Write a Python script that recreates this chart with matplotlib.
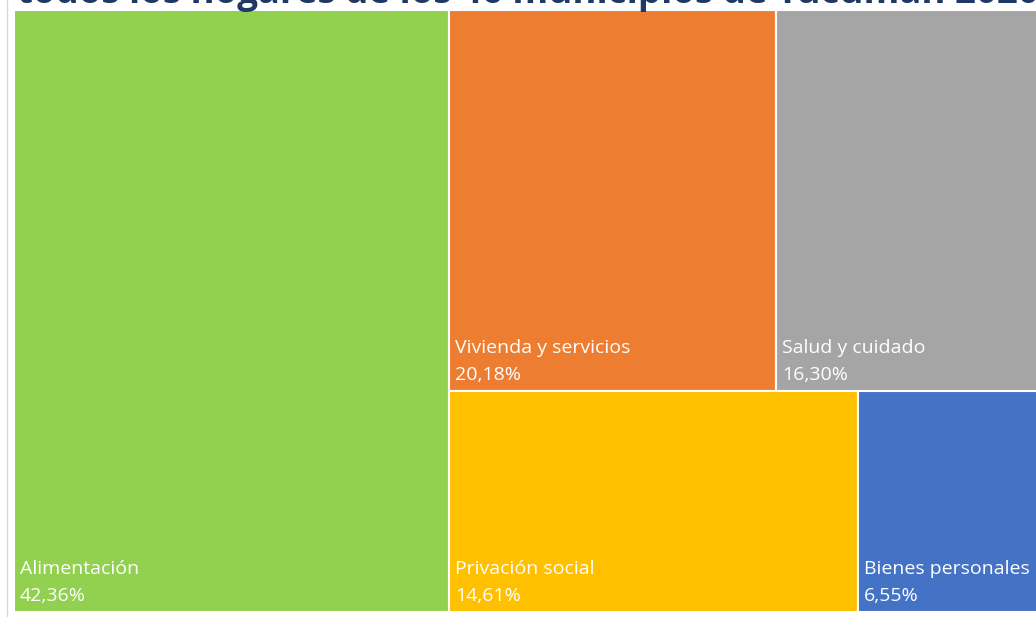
import matplotlib
matplotlib.use("Agg")
import matplotlib.pyplot as plt
from matplotlib.patches import Rectangle

categories = ["Alimentación", "Vivienda y servicios", "Salud y cuidado", "Privación social", "Bienes personales"]
values = [42.36, 20.18, 16.30, 14.61, 6.55]
labels = ["42,36%", "20,18%", "16,30%", "14,61%", "6,55%"]
colors = ["#92D050", "#ED7D31", "#A5A5A5", "#FFC000", "#4472C4"]
title = "todos los hogares de los 46 municipios de Tucumán 2020"

W, H = 1036, 617
fig = plt.figure(figsize=(W / 100, H / 100), dpi=100)
fig.patch.set_facecolor("white")

# axes spans treemap area (extends slightly past right edge, as in reference)
ax = fig.add_axes([14 / W, 5 / H, 1027 / W, 602 / H])
ax.set_xlim(0, 1)
ax.set_ylim(0, 1)
ax.axis("off")

total = sum(values)
rects = []
x0 = values[0] / total
rects.append((0, 0, x0, 1))
rest = total - values[0]
top = values[1] + values[2]
bot = values[3] + values[4]
h_top = top / rest
h_bot = bot / rest
w_rest = 1 - x0
cx = x0
for v in values[1:3]:
    w = v / top * w_rest
    rects.append((cx, h_bot, w, h_top))
    cx += w
cx = x0
for v in values[3:5]:
    w = v / bot * w_rest
    rects.append((cx, 0, w, h_bot))
    cx += w

for (x, y, w, h), c, name, lab in zip(rects, colors, categories, labels):
    ax.add_patch(Rectangle((x, y), w, h, facecolor=c, edgecolor="white", linewidth=1.5))
    ax.annotate(name, (x, y), xytext=(6, 38), textcoords="offset pixels",
                color="white", fontsize=14, family="Open Sans", va="baseline", ha="left")
    ax.annotate(lab, (x, y), xytext=(6, 11), textcoords="offset pixels",
                color="white", fontsize=14, family="Open Sans", va="baseline", ha="left")

# thin chart border line at left
fig.add_artist(plt.Line2D([6.5 / W, 6.5 / W], [0, 1], color="#d9d9d9", linewidth=1))

# title, mostly cut off at top
t = fig.text(17 / W, 1 - 3 / H, title, fontsize=23, fontweight="bold", color="#1F3864",
             family="Open Sans", ha="left", va="baseline")
fig.canvas.draw()
bb = t.get_window_extent()
t.set_fontsize(23 * (1040 - 17) / bb.width)

fig.savefig("out.png", dpi=100)
